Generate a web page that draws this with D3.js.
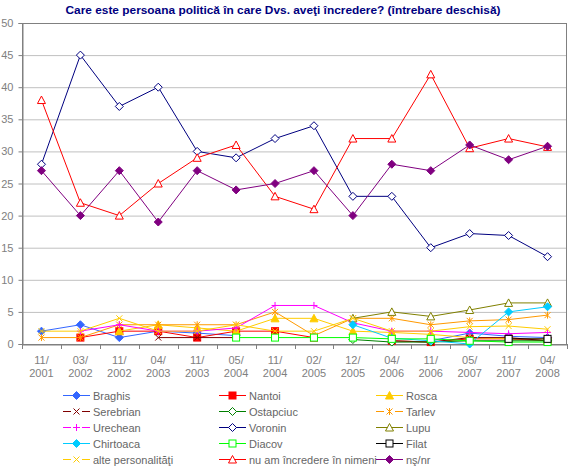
<!DOCTYPE html>
<html><head><meta charset="utf-8">
<script src="https://cdn.jsdelivr.net/npm/d3@7/dist/d3.min.js"></script>
<style>body{margin:0;background:#fff}svg{display:block}text{font-family:"Liberation Sans",Arial,sans-serif}</style>
</head><body>
<svg id="c" width="570" height="470"></svg>
<script>
const categories = ["11/2001","03/2002","11/2002","04/2003","11/2003","05/2004","11/2004","02/2005","12/2005","04/2006","11/2006","05/2007","11/2007","04/2008"];
const yTicks = [0,5,10,15,20,25,30,35,40,45,50];
const seriesNames = ["Braghis","Nantoi","Rosca","Serebrian","Ostapciuc","Tarlev","Urechean","Voronin","Lupu","Chirtoaca","Diacov","Filat","alte personalităţi","nu am încredere în nimeni","nş/nr"];
const braghis   = [2,3,1,2,1.7,1.3,null,null,null,null,0.5,1.7,1.2,1];
const nantoi    = [null,1,2,2,1,2,2,1,null,0.5,0.3,0.8,0.8,0.5];
const rosca     = [null,null,2,3,2.5,2,4,4,2,1.8,1.5,1,0.8,0.8];
const serebrian = [null,null,null,1,1,1,null,null,null,0.5,0.3,1,1,0.5];
const ostapciuc = [null,null,null,null,null,null,null,null,0.7,0.3,0.3,0.5,0.5,0.5];
const tarlev    = [1,1,3,3,3,3,5,1.3,4,4,3,3.6,3.8,4.5];
const urechean  = [null,2,3,2,2,2.5,6,6,3.3,2,2,1.8,1.6,1.8];
const voronin   = [28,45,37,40,30,29,32,34,23,23,15,17.2,16.9,13.6];
const lupu      = [null,null,null,null,null,null,null,null,4,5,4.3,5.3,6.4,6.4];
const chirtoaca = [null,null,null,null,null,null,null,null,3,0.9,0.5,0,5,5.8];
const diacov    = [null,null,null,null,null,1,1,1,1,0.8,0.8,0.5,0.3,0.3];
const filat     = [null,null,null,null,null,null,null,null,null,null,null,null,0.8,0.8];
const alte      = [2,2,4,2,2,3,2,2,4,2,2,2.7,2.8,2.3];
const nuAm      = [38,22,20,25,29,31,23,21,32,32,42,30.5,32,30.7];
const nsnr      = [27,20,27,19,27,24,25,27,20,28,27,31,28.7,30.8];

const seriesValues = [braghis,nantoi,rosca,serebrian,ostapciuc,tarlev,urechean,voronin,lupu,chirtoaca,diacov,filat,alte,nuAm,nsnr];
const styles = [
  {c:"#3366FF",m:"diamond",f:true},
  {c:"#FF0000",m:"square",f:true},
  {c:"#FFCC00",m:"triangle",f:true},
  {c:"#800000",m:"x"},
  {c:"#008000",m:"diamond",f:false},
  {c:"#FF9900",m:"star"},
  {c:"#FF00FF",m:"plus"},
  {c:"#000080",m:"diamond",f:false},
  {c:"#808000",m:"triangle",f:false},
  {c:"#00CCFF",m:"diamond",f:true},
  {c:"#00FF00",m:"square",f:false},
  {c:"#000000",m:"square",f:false},
  {c:"#FFCC00",m:"x"},
  {c:"#FF0000",m:"triangle",f:false},
  {c:"#800080",m:"diamond",f:true}
];

const svg = d3.select("#c");
const L=22,R=567,T=23,B=344;
const x = d3.scaleBand().domain(categories).range([L,R]);
const y = d3.scaleLinear().domain([0,50]).range([B,T]);
const cx = c => x(c)+x.bandwidth()/2;

// title
svg.append("text").attr("x",283).attr("y",14).attr("text-anchor","middle")
  .attr("font-size","11px").attr("font-weight","bold").attr("fill","#000080")
  .attr("textLength",435).attr("lengthAdjust","spacingAndGlyphs")
  .text("Care este persoana politică în care Dvs. aveţi încredere? (întrebare deschisă)");

// gridlines
svg.append("g").selectAll("line").data(yTicks.filter(t=>t>0&&t<50)).join("line")
  .attr("x1",L).attr("x2",R).attr("y1",d=>y(d)+0.5).attr("y2",d=>y(d)+0.5)
  .attr("stroke","#C0C0C0").attr("stroke-width",1);
// border
svg.append("rect").attr("x",L+0.5).attr("y",T+0.5).attr("width",R-L-1).attr("height",B-T)
  .attr("fill","none").attr("stroke","#808080");

// y axis
const ya = svg.append("g").attr("transform",`translate(${L+0.5},0)`)
  .call(d3.axisLeft(y).tickValues(yTicks).tickSize(4).tickPadding(5));
ya.select(".domain").attr("stroke","#808080");
ya.selectAll("line").attr("stroke","#808080");
ya.selectAll("text").attr("fill","#808080").attr("font-size","11px");

// x axis
const xa = svg.append("g").attr("transform",`translate(0,${B+0.5})`)
  .call(d3.axisBottom(x).tickSize(0).tickFormat(""));
xa.select(".domain").attr("stroke","#808080");
const bounds = categories.map(c=>x(c)).concat([R]);
svg.append("g").selectAll("line").data(bounds).join("line")
  .attr("x1",d=>Math.round(d)+0.5).attr("x2",d=>Math.round(d)+0.5).attr("y1",B).attr("y2",B+5)
  .attr("stroke","#808080");
const xl = svg.append("g").selectAll("text").data(categories).join("text")
  .attr("x",d=>cx(d)).attr("text-anchor","middle").attr("fill","#808080").attr("font-size","11px");
xl.append("tspan").attr("x",d=>cx(d)).attr("y",364).text(d=>d.split("/")[0]+"/");
xl.append("tspan").attr("x",d=>cx(d)).attr("y",377).text(d=>d.split("/")[1]);

function marker(g, st, px, py){
  const c=st.c, r=3.5;
  if(st.m==="diamond"){
    g.append("path").attr("d",`M${px},${py-r-0.5}L${px+r+0.5},${py}L${px},${py+r+0.5}L${px-r-0.5},${py}Z`)
      .attr("fill",st.f?c:"#fff").attr("stroke",c);
  } else if(st.m==="square"){
    g.append("rect").attr("x",px-r).attr("y",py-r).attr("width",2*r).attr("height",2*r)
      .attr("fill",st.f?c:"#fff").attr("stroke",c);
  } else if(st.m==="triangle"){
    g.append("path").attr("d",`M${px},${py-r-0.5}L${px+r+0.5},${py+r}L${px-r-0.5},${py+r}Z`)
      .attr("fill",st.f?c:"#fff").attr("stroke",c);
  } else if(st.m==="x"){
    g.append("path").attr("d",`M${px-3},${py-3}L${px+3},${py+3}M${px+3},${py-3}L${px-3},${py+3}`).attr("stroke",c).attr("fill","none");
  } else if(st.m==="star"){
    g.append("path").attr("d",`M${px-3},${py-3}L${px+3},${py+3}M${px+3},${py-3}L${px-3},${py+3}M${px},${py-3.5}L${px},${py+3.5}`).attr("stroke",c).attr("fill","none");
  } else if(st.m==="plus"){
    g.append("path").attr("d",`M${px-3.5},${py}L${px+3.5},${py}M${px},${py-3.5}L${px},${py+3.5}`).attr("stroke",c).attr("fill","none");
  }
}

const line = d3.line().defined(d=>d.v!=null).x(d=>cx(d.c)).y(d=>y(d.v));
seriesValues.forEach((vals,i)=>{
  const st=styles[i];
  const data = vals.map((v,j)=>({c:categories[j],v}));
  const g = svg.append("g");
  g.append("path").datum(data).attr("d",line).attr("fill","none").attr("stroke",st.c).attr("stroke-width",1);
  data.filter(d=>d.v!=null).forEach(d=>marker(g,st,cx(d.c),y(d.v)));
});

// legend
const colX=[63,219,376], rowY=[395,411,427,443,459];
seriesNames.forEach((n,i)=>{
  const col=i%3,row=Math.floor(i/3);
  const lx=colX[col], ly=rowY[row];
  const st=styles[i];
  const g=svg.append("g");
  const open = ["x","star","plus"].includes(st.m);
  if(open){
    g.append("line").attr("x1",lx).attr("x2",lx+8).attr("y1",ly+0.5).attr("y2",ly+0.5).attr("stroke",st.c);
    g.append("line").attr("x1",lx+19).attr("x2",lx+27).attr("y1",ly+0.5).attr("y2",ly+0.5).attr("stroke",st.c);
  } else {
    g.append("line").attr("x1",lx).attr("x2",lx+27).attr("y1",ly+0.5).attr("y2",ly+0.5).attr("stroke",st.c);
  }
  marker(g,st,lx+13.5,ly+0.5);
  g.append("text").attr("x",lx+30).attr("y",ly+4.5).attr("font-size","11px").attr("fill","#666666").text(n);
});
</script>
</body></html>
